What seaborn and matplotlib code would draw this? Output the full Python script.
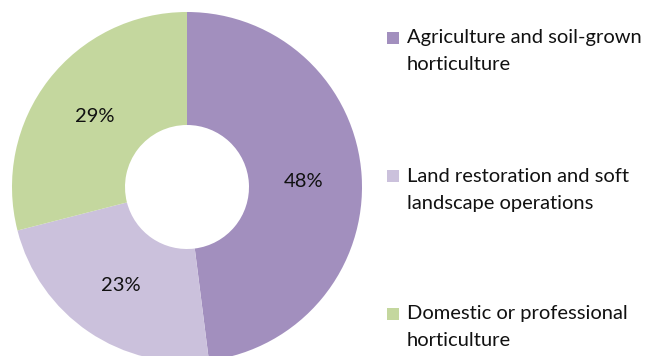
import matplotlib
matplotlib.use("Agg")
import matplotlib.pyplot as plt
import seaborn as sns
from matplotlib.patches import Rectangle

categories = ["Agriculture and soil-grown\nhorticulture",
              "Land restoration and soft\nlandscape operations",
              "Domestic or professional\nhorticulture"]
values = [48, 23, 29]
colors = ["#A28FBE", "#CBC1DC", "#C4D79E"]

sns.set_theme(style="white")
plt.rcParams['font.family'] = ['Lato', 'DejaVu Sans']

fig = plt.figure(figsize=(6.49, 3.56), dpi=100)
W, H = 649, 356
cx, cy, r = 187, 187, 175
ax = fig.add_axes([(cx - r) / W, (H - (cy + r)) / H, 2 * r / W, 2 * r / H])
wedges, texts = ax.pie(values, colors=colors, startangle=90, counterclock=False,
                       radius=1, labels=[f"{v}%" for v in values], labeldistance=0.67,
                       wedgeprops=dict(width=1 - 62 / 175, linewidth=0),
                       textprops=dict(fontsize=14.5, color="#111111"))
for t in texts:
    t.set_ha("center"); t.set_va("center_baseline")
ax.set_xlim(-1, 1); ax.set_ylim(-1, 1)
ax.set_aspect("equal")
ax.axis("off")

# legend drawn manually so the swatch aligns with the first text line
for i, (lab, c) in enumerate(zip(categories, colors)):
    y0 = 38 + 138 * i
    fig.patches.append(Rectangle((387 / W, 1 - (y0 + 6) / H), 12 / W, 12 / H,
                                 transform=fig.transFigure, facecolor=c,
                                 edgecolor="none"))
    for j, line in enumerate(lab.split("\n")):
        fig.text(407 / W, 1 - (y0 + 27 * j) / H, line, fontsize=14.5,
                 color="#111111", ha="left", va="center")

fig.savefig("out.png", dpi=100)
